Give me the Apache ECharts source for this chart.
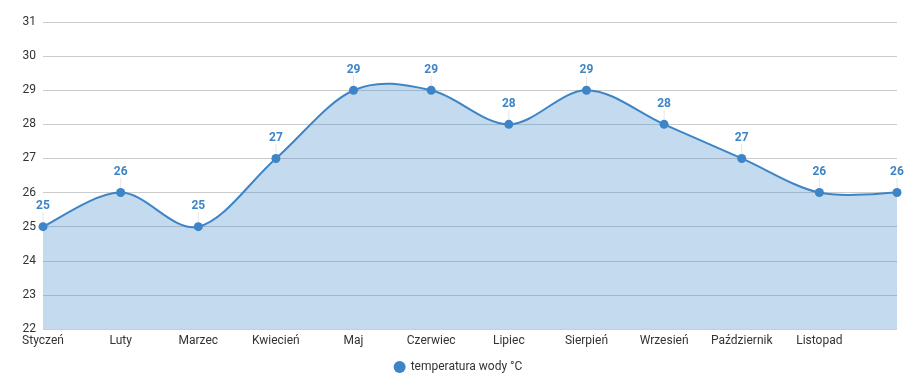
<!DOCTYPE html>
<html><head><meta charset="utf-8">
<script src="https://cdn.jsdelivr.net/npm/echarts@6/dist/echarts.min.js"></script>
<style>html,body{margin:0;padding:0;background:#fff}#c{width:916px;height:389px}</style>
</head><body><div id="c"></div>
<script>
const categories = ['Styczeń','Luty','Marzec','Kwiecień','Maj','Czerwiec','Lipiec','Sierpień','Wrzesień','Październik','Listopad','Grudzień'];
const waterTemp = [25,26,25,27,29,29,28,29,28,27,26,26];
const seriesName = 'temperatura wody °C';
const yMin = 22, yMax = 31, yStep = 1;
const lineColor = '#3d85c6';

// Catmull-Rom curve through the points, positioned via the chart's own scales
function renderCurve(params, api) {
  if (params.dataIndexInside !== 0) return {type: 'group', children: []};
  const n = params.dataInsideLength !== undefined ? params.dataInsideLength : waterTemp.length;
  const pts = [];
  for (let i = 0; i < n; i++) pts.push(api.coord([api.value(0, i), api.value(1, i)]));
  const yb = api.coord([0, yMin])[1];
  let d = 'M' + pts[0][0] + ' ' + pts[0][1];
  for (let i = 0; i < n - 1; i++) {
    const p0 = pts[Math.max(i - 1, 0)], p1 = pts[i], p2 = pts[i + 1], p3 = pts[Math.min(i + 2, n - 1)];
    const c1 = [p1[0] + (p2[0] - p0[0]) / 6, p1[1] + (p2[1] - p0[1]) / 6];
    const c2 = [p2[0] - (p3[0] - p1[0]) / 6, p2[1] - (p3[1] - p1[1]) / 6];
    d += ' C' + c1[0] + ' ' + c1[1] + ' ' + c2[0] + ' ' + c2[1] + ' ' + p2[0] + ' ' + p2[1];
  }
  const area = d + ' L' + pts[n - 1][0] + ' ' + yb + ' L' + pts[0][0] + ' ' + yb + ' Z';
  return {
    type: 'group',
    children: [
      {type: 'path', shape: {pathData: area}, style: {fill: lineColor, opacity: 0.3, stroke: null}, silent: true},
      {type: 'path', shape: {pathData: d}, style: {fill: null, stroke: lineColor, lineWidth: 2}, silent: true}
    ]
  };
}

const chart = echarts.init(document.getElementById('c'));
chart.setOption({
  animation: false,
  textStyle: {fontFamily: 'Roboto'},
  grid: {left: 43, right: 19, top: 22, bottom: 60, containLabel: false, outerBoundsMode: 'none'},
  legend: {
    bottom: 11, left: 'center', icon: 'circle', itemWidth: 12, itemHeight: 12,
    textStyle: {color: '#333', fontSize: 12, fontFamily: 'Roboto'},
    data: [seriesName]
  },
  xAxis: {
    type: 'category', data: categories, boundaryGap: false,
    axisLine: {show: false}, axisTick: {show: false},
    axisLabel: {color: '#333', fontSize: 12, margin: 6, interval: 0,
      formatter: (v, i) => i === categories.length - 1 ? '' : v},
    splitLine: {show: false}
  },
  yAxis: {
    type: 'value', min: yMin, max: yMax, interval: yStep,
    axisLine: {show: false}, axisTick: {show: false},
    axisLabel: {color: '#333', fontSize: 12, margin: 7},
    splitLine: {lineStyle: {color: '#cccccc', width: 1}}
  },
  series: [{
    name: 'curve', type: 'custom', renderItem: renderCurve, z: 1,
    data: waterTemp.map((v, i) => [i, v]),
    encode: {x: 0, y: 1}, silent: true, tooltip: {show: false}
  }, {
    name: seriesName, type: 'line', data: waterTemp, z: 3,
    symbol: 'circle', symbolSize: 9,
    itemStyle: {color: lineColor},
    lineStyle: {color: lineColor, width: 0, opacity: 0},
    label: {show: true, position: 'top', distance: 6, color: lineColor, fontWeight: 'bold', fontSize: 12},
    labelLayout: {dy: -4},
    labelLine: {show: true, lineStyle: {color: '#e6e6e6', width: 1}}
  }]
});
</script></body></html>
